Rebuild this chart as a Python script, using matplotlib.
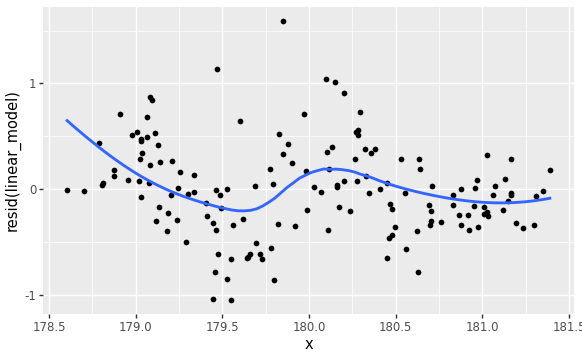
import numpy as np
import matplotlib
matplotlib.use("Agg")
from matplotlib import pyplot as plt


x = np.array([
    178.604, 178.702, 178.788, 178.806, 178.811, 178.875, 178.875, 178.909, 178.956, 178.979,
    179.008, 179.019, 179.025, 179.031, 179.031, 179.031, 179.036, 179.062, 179.065, 179.077,
    179.082, 179.094, 179.082, 179.111, 179.117, 179.129, 179.134, 179.140, 179.181, 179.186,
    179.204, 179.209, 179.238, 179.244, 179.255, 179.290, 179.302, 179.336, 179.336, 179.405,
    179.411, 179.446, 179.446, 179.457, 179.463, 179.463, 179.469, 179.475, 179.486, 179.492,
    179.527, 179.527, 179.550, 179.550, 179.561, 179.602, 179.619, 179.642, 179.648, 179.659,
    179.688, 179.694, 179.717, 179.728, 179.775, 179.780, 179.792, 179.798, 179.821, 179.826,
    179.850, 179.850, 179.878, 179.901, 179.919, 179.971, 179.982, 179.988, 180.028, 180.069,
    180.100, 180.103, 180.109, 180.115, 180.132, 180.149, 180.161, 180.161, 180.172, 180.201,
    180.201, 180.236, 180.265, 180.270, 180.276, 180.282, 180.282, 180.294, 180.322, 180.328,
    180.345, 180.357, 180.380, 180.409, 180.449, 180.449, 180.461, 180.467, 180.478, 180.478,
    180.495, 180.530, 180.553, 180.559, 180.622, 180.628, 180.634, 180.640, 180.691, 180.697,
    180.703, 180.703, 180.709, 180.761, 180.830, 180.830, 180.864, 180.876, 180.876, 180.916,
    180.922, 180.951, 180.957, 180.968, 180.974, 181.009, 181.009, 181.026, 181.026, 181.032,
    181.061, 181.074, 181.118, 181.130, 181.149, 181.164, 181.164, 181.164, 181.193, 181.234,
    181.297, 181.309, 181.349, 181.389])

resid = np.array([
    -0.009, -0.019, 0.436, 0.038, 0.057, 0.180, 0.123, 0.711, 0.085, 0.512,
    0.540, 0.076, 0.284, 0.474, 0.455, -0.076, 0.341, 0.682, 0.493, 0.057,
    0.872, 0.844, 0.227, 0.531, -0.303, 0.417, -0.171, 0.256, -0.398, -0.227,
    -0.057, 0.265, -0.294, 0.009, 0.161, -0.502, -0.047, -0.028, 0.133, -0.133,
    -0.256, -0.322, -1.043, -0.787, -0.009, -0.389, 1.137, -0.616, -0.057, -0.180,
    0.000, -0.853, -0.664, -1.052, -0.341, 0.645, -0.284, -0.654, -0.645, -0.616,
    0.028, -0.512, -0.616, -0.664, 0.190, -0.559, 0.047, -0.863, -0.332, 0.521,
    1.592, 0.332, 0.427, 0.246, -0.351, 0.711, 0.171, -0.199, 0.019, -0.028,
    1.043, 0.351, -0.389, 0.190, 0.398, 1.014, 0.038, 0.019, -0.171, 0.910,
    0.076, -0.209, 0.284, 0.540, 0.076, 0.559, 0.512, 0.730, 0.379, 0.123,
    -0.038, 0.341, 0.379, 0.000, 0.057, -0.654, -0.464, -0.142, -0.190, -0.436,
    -0.360, 0.284, -0.038, -0.569, -0.398, -0.787, 0.284, 0.190, -0.152, -0.341,
    -0.209, -0.303, 0.028, -0.313, -0.057, -0.152, -0.246, 0.000, -0.341, -0.246,
    -0.389, -0.161, 0.009, 0.085, -0.360, -0.171, -0.237, 0.322, -0.218, -0.256,
    -0.057, 0.028, -0.199, 0.095, -0.114, 0.284, -0.038, -0.057, -0.322, -0.370,
    -0.341, -0.066, -0.019, 0.180])

x_ticks = [178.5, 179.0, 179.5, 180.0, 180.5, 181.0, 181.5]
x_tick_labels = ["178.5", "179.0", "179.5", "180.0", "180.5", "181.0", "181.5"]
y_ticks = [-1, 0, 1]
y_tick_labels = ["-1", "0", "1"]


def loess(xv, yv, grid, span=0.75):
    n = len(xv)
    q = int(np.floor(n * span))
    fit = []
    for x0 in grid:
        d = np.abs(xv - x0)
        h = np.sort(d)[q - 1]
        w = np.clip(1 - (d / h) ** 3, 0, None) ** 3
        X = np.column_stack([np.ones(n), xv - x0, (xv - x0) ** 2])
        sw = np.sqrt(w)
        beta = np.linalg.lstsq(X * sw[:, None], yv * sw, rcond=None)[0]
        fit.append(beta[0])
    return np.array(fit)


grid = np.linspace(x.min(), x.max(), 80)
smooth = loess(x, resid, grid)

fig = plt.figure(figsize=(582 / 96, 359 / 96), dpi=96)
ax = fig.add_axes([43 / 582, 1 - 314 / 359, (574 - 43) / 582, (314 - 7) / 359])
ax.set_facecolor("#EBEBEB")
for s in ax.spines.values():
    s.set_visible(False)

xr = x.max() - x.min()
yr = resid.max() - resid.min()
ax.set_xlim(x.min() - 0.05 * xr, x.max() + 0.05 * xr)
ax.set_ylim(resid.min() - 0.05 * yr, resid.max() + 0.05 * yr)

ax.set_xticks(x_ticks)
ax.set_xticklabels(x_tick_labels)
ax.set_yticks(y_ticks)
ax.set_yticklabels(y_tick_labels)
ax.set_xticks([178.75, 179.25, 179.75, 180.25, 180.75, 181.25], minor=True)
ax.set_yticks([-0.5, 0.5, 1.5], minor=True)

ax.grid(which="major", color="white", linewidth=1.07)
ax.grid(which="minor", color="white", linewidth=0.53)
ax.set_axisbelow(True)
ax.tick_params(which="major", length=2.75, width=1.07, color="#333333",
               labelsize=8.8, labelcolor="#4D4D4D", pad=2.2)
ax.tick_params(which="minor", length=0)

ax.scatter(x, resid, s=4.3 ** 2, color="black", linewidths=0, zorder=3)
ax.plot(grid, smooth, color="#3366FF", linewidth=2.13, zorder=4)

ax.set_xlabel("x", fontsize=11, labelpad=2.75)
ax.set_ylabel("resid(linear_model)", fontsize=11, labelpad=2.75)

plt.savefig("out.png", dpi=96)
